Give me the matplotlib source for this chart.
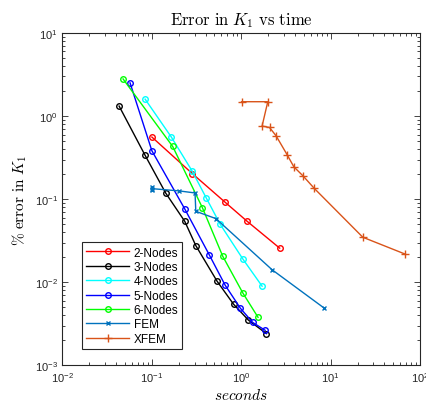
import matplotlib
matplotlib.use("Agg")
import matplotlib.pyplot as plt
from matplotlib.ticker import LogLocator, FixedLocator, NullFormatter

plt.rcParams['mathtext.fontset'] = 'cm'

# Data (time in seconds, % error in K1)
n2_t = [0.10, 0.284, 0.66, 1.17, 2.69]
n2_e = [0.56, 0.203, 0.092, 0.054, 0.0258]

n3_t = [0.043, 0.0833, 0.1425, 0.233, 0.310, 0.537, 0.819, 1.20, 1.91]
n3_e = [1.32, 0.343, 0.119, 0.0543, 0.0277, 0.0103, 0.00547, 0.00352, 0.00242]

n4_t = [0.084, 0.165, 0.281, 0.407, 0.581, 1.045, 1.71]
n4_e = [1.60, 0.56, 0.220, 0.103, 0.050, 0.0190, 0.0090]

n5_t = [0.057, 0.100, 0.233, 0.441, 0.66, 0.975, 1.34, 1.85]
n5_e = [2.51, 0.383, 0.0766, 0.0212, 0.00925, 0.0049, 0.0033, 0.00265]

n6_t = [0.0476, 0.171, 0.367, 0.622, 1.045, 1.54]
n6_e = [2.80, 0.431, 0.0793, 0.0205, 0.0074, 0.0038]

fem_t = [0.100, 0.0995, 0.101, 0.201, 0.304, 0.310, 0.520, 2.21, 8.34]
fem_e = [0.140, 0.128, 0.134, 0.126, 0.119, 0.0716, 0.0585, 0.0142, 0.00496]

xfem_t = [1.008, 1.98, 1.71, 2.07, 2.45, 3.26, 3.87, 4.93, 6.56, 22.9, 67.3]
xfem_e = [1.49, 1.49, 0.759, 0.730, 0.580, 0.343, 0.246, 0.190, 0.135, 0.0349, 0.0220]

labels = ['2-Nodes', '3-Nodes', '4-Nodes', '5-Nodes', '6-Nodes', 'FEM', 'XFEM']
xticks = [1e-2, 1e-1, 1e0, 1e1, 1e2]
xticklabels = [r'$\mathregular{10^{-2}}$', r'$\mathregular{10^{-1}}$', r'$\mathregular{10^{0}}$',
               r'$\mathregular{10^{1}}$', r'$\mathregular{10^{2}}$']
yticks = [1e-3, 1e-2, 1e-1, 1e0, 1e1]
yticklabels = [r'$\mathregular{10^{-3}}$', r'$\mathregular{10^{-2}}$', r'$\mathregular{10^{-1}}$',
               r'$\mathregular{10^{0}}$', r'$\mathregular{10^{1}}$']

fig = plt.figure(figsize=(4.26, 4.06), dpi=100)
ax = fig.add_axes([0.1467, 0.0973, 0.8393, 0.8190])

ms = 4
lw = 1.0
ax.plot(n2_t, n2_e, '-o', color='#FF0000', mfc='none', ms=ms, lw=lw, mew=1.0, label=labels[0])
ax.plot(n3_t, n3_e, '-o', color='#000000', mfc='none', ms=ms, lw=lw, mew=1.0, label=labels[1])
ax.plot(n4_t, n4_e, '-o', color='#00FFFF', mfc='none', ms=ms, lw=lw, mew=1.0, label=labels[2])
ax.plot(n5_t, n5_e, '-o', color='#0000FF', mfc='none', ms=ms, lw=lw, mew=1.0, label=labels[3])
ax.plot(n6_t, n6_e, '-o', color='#00FF00', mfc='none', ms=ms, lw=lw, mew=1.0, label=labels[4])
ax.plot(fem_t, fem_e, '-x', color='#0072BD', ms=3.5, lw=lw, mew=1.0, label=labels[5])
ax.plot(xfem_t, xfem_e, '-+', color='#D95319', ms=6, lw=lw, mew=1.0, label=labels[6])

ax.set_xscale('log')
ax.set_yscale('log')
ax.set_xlim(1e-2, 1e2)
ax.set_ylim(1e-3, 1e1)

ax.xaxis.set_major_locator(FixedLocator(xticks))
ax.set_xticklabels(xticklabels)
ax.yaxis.set_major_locator(FixedLocator(yticks))
ax.set_yticklabels(yticklabels)
ax.xaxis.set_minor_locator(LogLocator(base=10, subs=range(2, 10), numticks=20))
ax.yaxis.set_minor_locator(LogLocator(base=10, subs=range(2, 10), numticks=20))
ax.xaxis.set_minor_formatter(NullFormatter())
ax.yaxis.set_minor_formatter(NullFormatter())

ax.tick_params(which='both', direction='in', top=True, right=True, labelsize=8,
               colors='#262626', labelcolor='#262626', width=0.6)
ax.tick_params(which='major', length=4)
ax.tick_params(which='minor', length=2)
for lab in ax.get_xticklabels() + ax.get_yticklabels():
    lab.set_fontfamily('Liberation Sans')
for s in ax.spines.values():
    s.set_linewidth(0.8)
    s.set_color('#262626')

ax.set_title(r'$\mathrm{Error\ in\ }K_1\mathrm{\ vs\ time}$', fontsize=12, pad=6)
ax.set_xlabel(r'$\mathit{seconds}$', fontsize=11, labelpad=2)
ax.set_ylabel(r'$\%\ \mathrm{error\ in\ }K_1$', fontsize=11, labelpad=4)

leg = ax.legend(loc='lower left', bbox_to_anchor=(0.055, 0.05), borderaxespad=0,
                prop={'family': 'Liberation Sans', 'size': 8.5}, fancybox=False,
                edgecolor='#262626', framealpha=1, handlelength=3.6,
                labelspacing=0.2, borderpad=0.35, handletextpad=0.4)
leg.get_frame().set_linewidth(0.8)

fig.savefig('out.png', dpi=100)
